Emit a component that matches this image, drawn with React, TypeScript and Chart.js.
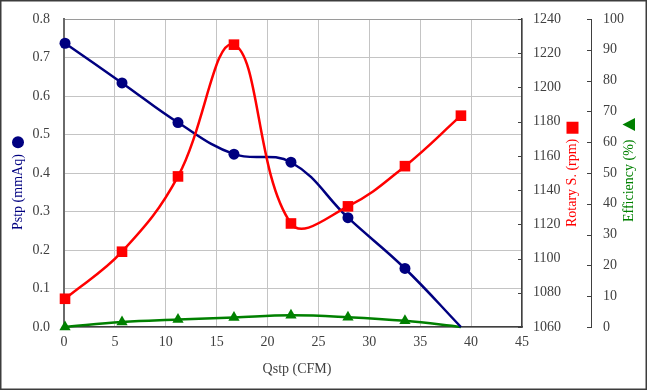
import React, { useEffect, useRef } from 'react';
import { Chart, registerables } from 'chart.js';

Chart.register(...registerables);

// ---- data ----
const qstp = [0.1, 5.7, 11.2, 16.7, 22.3, 27.9, 33.5, 39.0];
const pstp = [0.737, 0.634, 0.531, 0.449, 0.428, 0.284, 0.152, 0.0];
const rotary = [1076.5, 1104, 1148, 1225, 1120.5, 1130.5, 1154, 1183.5];
const efficiency = [0, 1.6, 2.4, 3.1, 3.8, 3.2, 2.0, 0];

const xRange = [0, 45, 5];
const pstpRange = [0, 0.8, 0.1];
const rotaryRange = [1060, 1240, 20];
const effRange = [0, 100, 10];

const titles = {
  x: 'Qstp (CFM)',
  pstp: 'Pstp (mmAq)',
  rotary: 'Rotary S. (rpm)',
  eff: 'Efficiency (%)',
};

const FONT = "'Liberation Serif', 'Times New Roman', serif";
const TICK = '#404040';
const NAVY = '#000080';
const RED = '#FF0000';
const GREEN = '#008000';

function zeroPad(s: any) {
  s.paddingTop = 0;
  s.paddingBottom = 0;
  s.paddingLeft = 0;
  s.paddingRight = 0;
}

function drawTitle(ctx: CanvasRenderingContext2D, text: string, cx: number, startY: number, color: string, shape: string, gap: number) {
  ctx.save();
  ctx.translate(cx, startY);
  ctx.rotate(-Math.PI / 2);
  ctx.font = `14px ${FONT}`;
  ctx.fillStyle = color;
  ctx.textAlign = 'left';
  ctx.textBaseline = 'middle';
  ctx.fillText(text, 0, 0);
  const w = ctx.measureText(text).width;
  const sx = w + gap + 6;
  ctx.beginPath();
  if (shape === 'circle') {
    ctx.arc(sx, 0, 6, 0, Math.PI * 2);
  } else if (shape === 'square') {
    ctx.rect(sx - 6, -6, 12, 12);
  } else {
    ctx.moveTo(sx - 6.5, 6);
    ctx.lineTo(sx, -6.5);
    ctx.lineTo(sx + 6.5, 6);
    ctx.closePath();
  }
  ctx.fill();
  ctx.restore();
}

const overlay = {
  id: 'overlay',
  afterDraw(chart: any) {
    const ctx = chart.ctx as CanvasRenderingContext2D;
    const a = chart.chartArea;
    const y2 = chart.scales.y2;
    const y3 = chart.scales.y3;
    ctx.save();
    ctx.strokeStyle = TICK;
    ctx.lineWidth = 1;
    y2.ticks.forEach((t: any) => {
      const py = Math.round(y2.getPixelForValue(t.value)) + 0.5;
      ctx.beginPath();
      ctx.moveTo(a.right - 4, py);
      ctx.lineTo(a.right, py);
      ctx.stroke();
    });
    y3.ticks.forEach((t: any) => {
      const py = Math.round(y3.getPixelForValue(t.value)) + 0.5;
      ctx.beginPath();
      ctx.moveTo(y3.left - 4, py);
      ctx.lineTo(y3.left, py);
      ctx.stroke();
    });
    ctx.restore();

    drawTitle(ctx, titles.pstp, 18, 230, NAVY, 'circle', 6);
    drawTitle(ctx, titles.rotary, 572.5, 227, RED, 'square', 5);
    drawTitle(ctx, titles.eff, 629, 222, GREEN, 'triangle', 9);

    ctx.save();
    ctx.font = `14px ${FONT}`;
    ctx.fillStyle = TICK;
    ctx.textAlign = 'center';
    ctx.textBaseline = 'middle';
    ctx.fillText(titles.x, 297, 369);
    ctx.strokeStyle = '#3c3c3c';
    ctx.lineWidth = 1.5;
    ctx.strokeRect(0.75, 0.75, chart.width - 1.5, chart.height - 1.5);
    ctx.restore();
  },
};

function pts(ys: number[]) {
  return qstp.map((x, i) => ({ x, y: ys[i] }));
}

export default function App() {
  const ref = useRef<HTMLCanvasElement | null>(null);

  useEffect(() => {
    if (!ref.current) return;
    const tickFont = { family: FONT, size: 14 };
    const chart = new Chart(ref.current, {
      type: 'line',
      data: {
        datasets: [
          {
            label: titles.rotary,
            data: pts(rotary),
            yAxisID: 'y2',
            borderColor: RED,
            backgroundColor: RED,
            borderWidth: 2.5,
            pointStyle: 'rect',
            pointRadius: 7.5,
            pointBorderWidth: 0,
            tension: 0.4,
            clip: false,
            order: 0,
          } as any,
          {
            label: titles.pstp,
            data: pts(pstp),
            yAxisID: 'y',
            borderColor: NAVY,
            backgroundColor: NAVY,
            borderWidth: 2.5,
            pointStyle: 'circle',
            pointRadius: [5.5, 5.5, 5.5, 5.5, 5.5, 5.5, 5.5, 0],
            pointBorderWidth: 0,
            tension: 0.4,
            clip: false,
            order: 1,
          } as any,
          {
            label: titles.eff,
            data: pts(efficiency),
            yAxisID: 'y3',
            borderColor: GREEN,
            backgroundColor: GREEN,
            borderWidth: 2.5,
            pointStyle: 'triangle',
            pointRadius: [6.5, 6.5, 6.5, 6.5, 6.5, 6.5, 6.5, 0],
            pointBorderWidth: 0,
            tension: 0.4,
            clip: false,
            order: 2,
          } as any,
        ],
      },
      options: {
        responsive: false,
        animation: false,
        layout: { padding: { top: 19, left: 0, right: 0, bottom: 0 } },
        plugins: { legend: { display: false }, tooltip: { enabled: false } },
        scales: {
          x: {
            type: 'linear',
            min: xRange[0],
            max: xRange[1],
            ticks: { stepSize: xRange[2], padding: 7, color: TICK, font: tickFont, maxRotation: 0 },
            grid: { color: '#c4c4c4', drawTicks: false },
            border: { color: '#404040', width: 1.5 },
            afterFit(s: any) {
              s.height = 63;
              zeroPad(s);
            },
          },
          y: {
            position: 'left',
            min: pstpRange[0],
            max: pstpRange[1],
            ticks: {
              stepSize: pstpRange[2],
              padding: 14,
              color: TICK,
              font: tickFont,
              callback: (v: any) => Number(v).toFixed(1),
            },
            grid: {
              color: (c: any) => (c.tick && Math.abs(c.tick.value - 0.8) < 1e-6 ? '#9a9a9a' : '#c4c4c4'),
              drawTicks: false,
            },
            border: { color: '#6a6a6a', width: 2 },
            afterFit(s: any) {
              s.width = 64;
              zeroPad(s);
            },
          },
          y2: {
            position: 'right',
            weight: 0,
            min: rotaryRange[0],
            max: rotaryRange[1],
            ticks: {
              stepSize: rotaryRange[2],
              padding: 11,
              color: TICK,
              font: tickFont,
              callback: (v: any) => String(Math.round(Number(v))),
            },
            grid: { display: false, drawTicks: false },
            border: { display: true, color: '#404040', width: 1.5 },
            afterFit(s: any) {
              s.width = 69;
              zeroPad(s);
            },
          },
          y3: {
            position: 'right',
            weight: 1,
            min: effRange[0],
            max: effRange[1],
            ticks: {
              stepSize: effRange[2],
              padding: 12,
              color: TICK,
              font: tickFont,
              callback: (v: any) => String(Math.round(Number(v))),
            },
            grid: { display: false, drawTicks: false },
            border: { display: true, color: '#404040', width: 1 },
            afterFit(s: any) {
              s.width = 56;
              zeroPad(s);
            },
          },
        },
      } as any,
      plugins: [overlay],
    });
    return () => chart.destroy();
  }, []);

  return (
    <div style={{ position: 'fixed', left: 0, top: 0, width: 647, height: 390, background: '#fff' }}>
      <canvas ref={ref} width={647} height={390} style={{ display: 'block' }} />
    </div>
  );
}
